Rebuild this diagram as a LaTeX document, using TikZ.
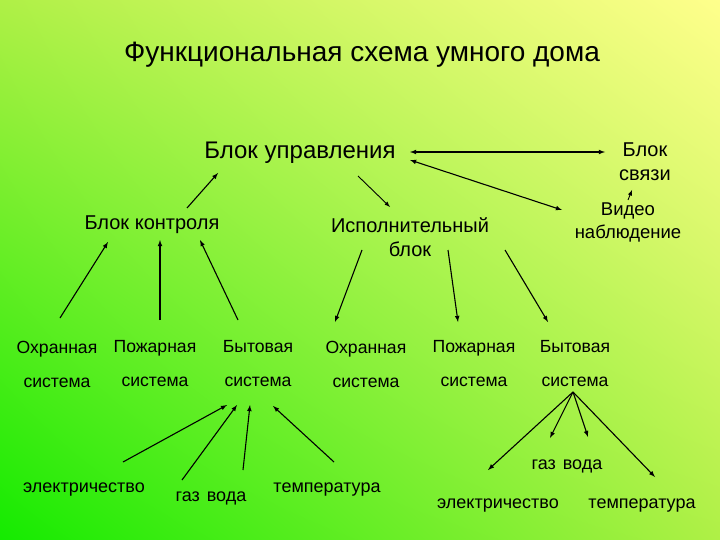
\documentclass[tikz,border=0pt]{standalone}
\usepackage{fontspec}
\setmainfont{Liberation Sans}
\usetikzlibrary{shadings}
\begin{document}
\begin{tikzpicture}[x=1pt,y=-1pt,
  lbl/.style={inner sep=0pt,font=\fontsize{20}{24}\selectfont,align=center},
  sml/.style={inner sep=0pt,font=\fontsize{18}{23}\selectfont,align=center},
  row/.style={inner sep=0pt,font=\fontsize{17.6}{34}\selectfont,align=center},
  arr/.style={->,>=latex,line width=1.1pt},
  arr2/.style={<->,>=latex,line width=1.1pt}]
\definecolor{gA}{RGB}{20,235,0}
\definecolor{gB}{RGB}{255,255,140}
\definecolor{gC}{RGB}{175,240,70}
\useasboundingbox (0,0) rectangle (720,540);
\shade[lower left=gA,upper right=gB,upper left=gC,lower right=gC] (0,0) rectangle (720,540);
\node[lbl,font=\fontsize{28}{32}\selectfont] (title) at (362,55) {Функциональная схема умного дома};
\node[lbl,font=\fontsize{24}{28}\selectfont] (bu) at (300,153) {Блок управления};
\node[lbl] (bs) at (645,162) {Блок\\связи};
\node[sml,font=\fontsize{18.5}{23}\selectfont] (vn) at (628,222) {Видео\\наблюдение};
\node[lbl] (bk) at (152,225) {Блок контроля};
\node[lbl] (ib) at (410,237) {Исполнительный\\блок};
\node[row] (s1) at (57,364) {Охранная\\система};
\node[row] (s2) at (155,364) {Пожарная\\система};
\node[row] (s3) at (258,364) {Бытовая\\система};
\node[row] (s4) at (366,364) {Охранная\\система};
\node[row] (s5) at (474,364) {Пожарная\\система};
\node[row] (s6) at (575,364) {Бытовая\\система};
\node[sml] (e1) at (84,490) {электричество};
\node[sml] (g1) at (211,498) {газ\hspace{7pt}вода};
\node[sml] (t1) at (327,490) {температура};
\node[sml] (g2) at (567,466) {газ\hspace{7pt}вода};
\node[sml] (e2) at (498,506) {электричество};
\node[sml] (t2) at (642,506) {температура};
% coordinates
\foreach \n/\x/\y in {a1/410/152,a2/605/152,b1/410/160,b2/562/210,c1/628/200,c2/632/190,
 d1/187/208,d2/218/173,e1a/358/176,e2a/390/207,
 f1/60/318,f2/108/242,g1a/160/320,g2a/160/240,h1/238/320,h2/200/240,
 i1/362/250,i2/335/322,j1/448/250,j2/458/322,k1/505/250,k2/548/322,
 l1/123/462,l2/227/405,m1/182/480,m2/237/405,n1/243/470,n2/250/405,o1/334/462,o2/273/406,
 p/573/392,q1/488/470,q2/550/438,q3/588/437,q4/655/477}
 {\coordinate (\n) at (\x,\y);}
\draw[arr2] (a1)--(a2);
\draw[arr2] (b1)--(b2);
\draw[arr,line width=0.9pt] (c1)--(c2);
\draw[arr] (d1)--(d2);
\draw[arr,line width=0.9pt] (e1a)--(e2a);
\draw[arr] (f1)--(f2);
\draw[arr] (g1a)--(g2a);
\draw[arr] (h1)--(h2);
\draw[arr] (i1)--(i2);
\draw[arr] (j1)--(j2);
\draw[arr] (k1)--(k2);
\draw[arr] (l1)--(l2);
\draw[arr] (m1)--(m2);
\draw[arr] (n1)--(n2);
\draw[arr] (o1)--(o2);
\draw[arr] (p)--(q1);
\draw[arr] (p)--(q2);
\draw[arr] (p)--(q3);
\draw[arr] (p)--(q4);
\end{tikzpicture}
\end{document}
